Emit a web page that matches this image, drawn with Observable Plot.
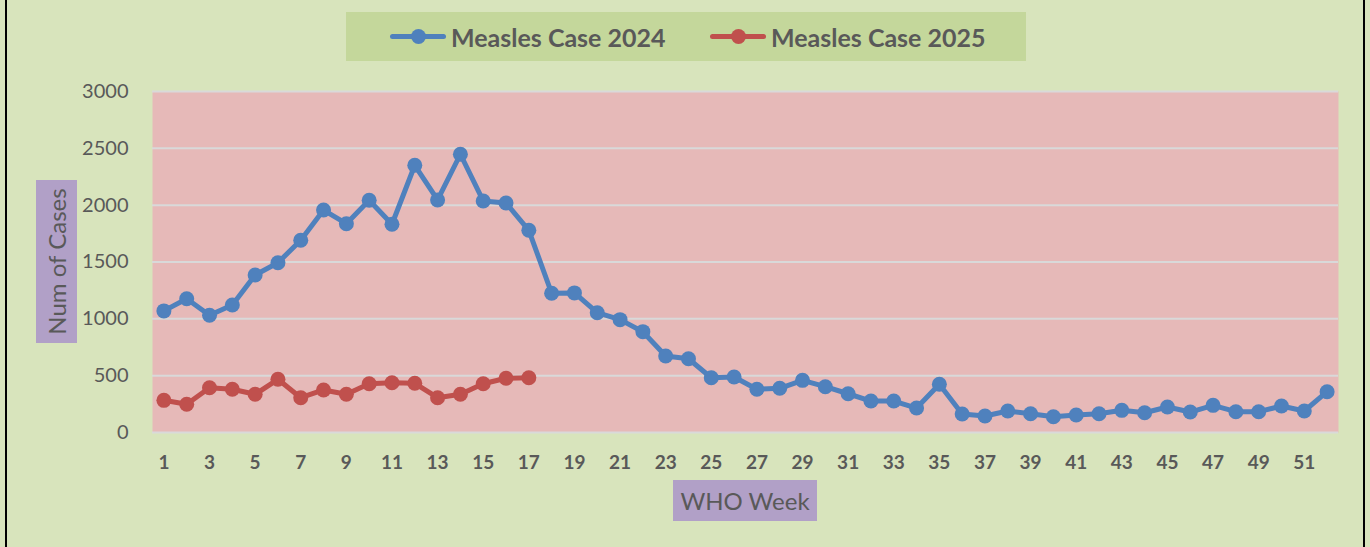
<!DOCTYPE html>
<html>
<head>
<meta charset="utf-8">
<script src="https://cdn.jsdelivr.net/npm/d3@7"></script>
<script src="https://cdn.jsdelivr.net/npm/@observablehq/plot@0.6"></script>
<style>
  html, body { margin: 0; padding: 0; }
  body { width: 1370px; height: 547px; overflow: hidden; }
  #wrap { position: relative; width: 1370px; height: 547px; background: #d8e4bc; font-family: Lato, "Open Sans", sans-serif; color: #595959; }
  #chart { position: absolute; left: 0; top: 0; }
  .bl { position: absolute; top: 0; width: 2px; height: 547px; background: #000; }
  #legend { position: absolute; left: 346px; top: 12px; width: 680px; height: 49px; background: #c4d79b; }
  .item { position: absolute; top: 0; height: 49px; display: flex; align-items: center; font-weight: bold; font-size: 25px; }
  .sw { position: relative; width: 56px; height: 49px; margin-right: 5px; }
  .sw .ln { position: absolute; left: 0; top: 22px; width: 56px; height: 5px; border-radius: 3px; }
  .sw .dt { position: absolute; left: 21px; top: 17px; width: 15px; height: 15px; border-radius: 50%; }
  .tbox { position: absolute; background: #b1a0c7; display: flex; align-items: center; justify-content: center; font-size: 24px; white-space: nowrap; }
  #ytitle span { transform: rotate(-90deg); display: inline-block; }
</style>
</head>
<body>
<div id="wrap">
  <div id="chart"></div>
  <div class="bl" style="left:5px"></div>
  <div class="bl" style="left:1363px"></div>
  <div id="legend"></div>
  <div id="ytitle" class="tbox" style="left:36px; top:180px; width:41px; height:163px;"><span>Num of Cases</span></div>
  <div id="xtitle" class="tbox" style="left:673px; top:480px; width:144px; height:41px;">WHO Week</div>
</div>
<script>
// ---- data ----
const weeks2024 = Array.from({length: 52}, (_, i) => i + 1);
const cases2024 = [1070, 1177, 1031, 1122, 1386, 1494, 1691, 1957, 1837, 2043,
                   1832, 2351, 2046, 2448, 2037, 2019, 1779, 1225, 1228, 1054,
                   993, 887, 673, 649, 482, 488, 380, 389, 459, 403,
                   341, 277, 277, 215, 424, 163, 145, 189, 165, 139,
                   154, 165, 195, 174, 224, 180, 239, 183, 183, 233,
                   189, 359];
const weeks2025 = Array.from({length: 17}, (_, i) => i + 1);
const cases2025 = [283, 248, 394, 380, 336, 468, 306, 374, 336, 429,
                   438, 433, 306, 336, 429, 477, 482];
const seriesNames = ["Measles Case 2024", "Measles Case 2025"];
const seriesColors = ["#4f81bd", "#c0504d"];
const yTicks = [0, 500, 1000, 1500, 2000, 2500, 3000];
const xTicks = weeks2024.filter(w => w % 2 === 1);

const d24 = weeks2024.map((w, i) => ({week: w, cases: cases2024[i]}));
const d25 = weeks2025.map((w, i) => ({week: w, cases: cases2025[i]}));

const chart = Plot.plot({
  width: 1370,
  height: 547,
  marginLeft: 152,
  marginRight: 32,
  marginTop: 91,
  marginBottom: 115,
  style: {background: "transparent", fontFamily: "Lato, 'Open Sans', sans-serif", color: "#595959", overflow: "visible"},
  x: {type: "linear", domain: [0.5, 52.5]},
  y: {domain: [0, 3000]},
  marks: [
    Plot.frame({fill: "#e6b9b8", stroke: null}),
    Plot.gridY(yTicks, {stroke: "#d9d9d9", strokeOpacity: 1, strokeWidth: 2}),
    Plot.axisY({ticks: yTicks, tickSize: 0, tickPadding: 24, tickFormat: d => String(d), fontSize: 20, fill: "#595959", label: null}),
    Plot.axisX({ticks: xTicks, tickSize: 0, tickPadding: 23, tickFormat: d => String(d), fontSize: 19, fontWeight: "bold", fill: "#595959", label: null}),
    Plot.line(d24, {x: "week", y: "cases", stroke: seriesColors[0], strokeWidth: 5}),
    Plot.dot(d24, {x: "week", y: "cases", r: 7.5, fill: seriesColors[0], stroke: null}),
    Plot.line(d25, {x: "week", y: "cases", stroke: seriesColors[1], strokeWidth: 5}),
    Plot.dot(d25, {x: "week", y: "cases", r: 7.5, fill: seriesColors[1], stroke: null})
  ]
});
document.getElementById("chart").appendChild(chart);

// legend
const legend = document.getElementById("legend");
const lefts = [44, 364];
seriesNames.forEach((name, i) => {
  const it = document.createElement("div");
  it.className = "item";
  it.style.left = lefts[i] + "px";
  it.innerHTML = `<div class="sw"><div class="ln" style="background:${seriesColors[i]}"></div><div class="dt" style="background:${seriesColors[i]}"></div></div><span>${name}</span>`;
  legend.appendChild(it);
});
</script>
</body>
</html>
